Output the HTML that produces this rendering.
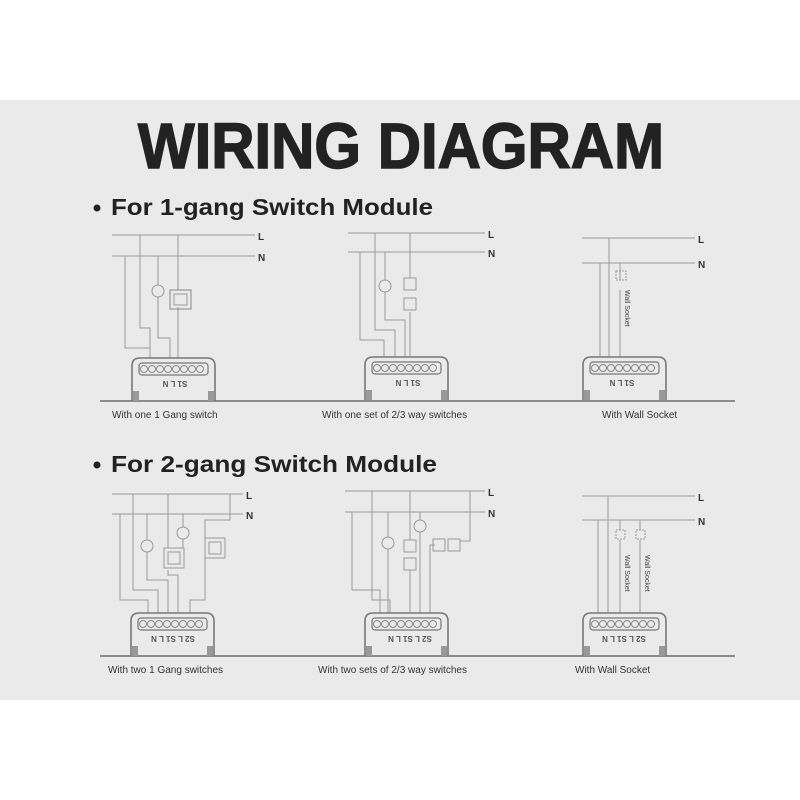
<!DOCTYPE html>
<html><head><meta charset="utf-8"><style>
html,body{margin:0;padding:0;background:#fff;}
svg{display:block;}
text{font-family:"Liberation Sans",sans-serif;}
</style></head><body>
<svg width="800" height="800" viewBox="0 0 800 800" xmlns="http://www.w3.org/2000/svg">
<defs>
<g id="mod">
 <path d="M0,43 V8 Q0,0 8,0 H75 Q83,0 83,8 V43" fill="none" stroke="#777" stroke-width="1.6"/>
 <rect x="7" y="5" width="69" height="12" rx="3" fill="none" stroke="#777" stroke-width="1.2"/>
 <g fill="none" stroke="#888" stroke-width="1">
  <circle cx="12" cy="11" r="3.5"/><circle cx="20" cy="11" r="3.5"/><circle cx="28" cy="11" r="3.5"/><circle cx="36" cy="11" r="3.5"/><circle cx="44" cy="11" r="3.5"/><circle cx="52" cy="11" r="3.5"/><circle cx="60" cy="11" r="3.5"/><circle cx="68" cy="11" r="3.5"/>
 </g>
 <rect x="1" y="33" width="6" height="10" fill="#999"/>
 <rect x="76" y="33" width="6" height="10" fill="#999"/>
</g>
</defs>
<rect x="0" y="100" width="800" height="600" fill="#eaeaea"/>
<text x="401" y="168" font-size="64" font-weight="bold" text-anchor="middle" textLength="526" lengthAdjust="spacingAndGlyphs" fill="#222" stroke="#222" stroke-width="1.5">WIRING DIAGRAM</text>
<circle cx="97" cy="208" r="3.5" fill="#222"/>
<text x="111" y="215" font-size="23" font-weight="bold" textLength="322" lengthAdjust="spacingAndGlyphs" fill="#222">For 1-gang Switch Module</text>
<circle cx="97" cy="465" r="3.5" fill="#222"/>
<text x="111" y="472" font-size="23" font-weight="bold" textLength="326" lengthAdjust="spacingAndGlyphs" fill="#222">For 2-gang Switch Module</text>

<g stroke="#555" stroke-width="1.2">
<line x1="100" y1="401" x2="735" y2="401"/>
<line x1="100" y1="656" x2="735" y2="656"/>
</g>
<g font-size="10" fill="#333">
<text x="112" y="418">With one 1 Gang switch</text>
<text x="322" y="418">With one set of 2/3 way switches</text>
<text x="602" y="418">With Wall Socket</text>
<text x="108" y="673">With two 1 Gang switches</text>
<text x="318" y="673">With two sets of 2/3 way switches</text>
<text x="575" y="673">With Wall Socket</text>
</g>

<!-- Row1 D1 -->
<g fill="none" stroke="#999" stroke-width="1">
<line x1="112" y1="235" x2="255" y2="235"/><line x1="112" y1="256" x2="255" y2="256"/>
<polyline points="140,235 140,328 150,328 150,358"/>
<polyline points="125,256 125,348 150,348"/>
<polyline points="158,256 158,285"/><polyline points="158,297 158,338 170,338 170,358"/>
<polyline points="178,235 178,290"/><polyline points="178,307 178,358"/>
<circle cx="158" cy="291" r="6"/>
<rect x="170" y="290" width="21" height="19" stroke="#888"/><rect x="174" y="294" width="13" height="11"/>
</g>
<use href="#mod" x="132" y="358"/>
<text transform="translate(175,381) rotate(180)" font-size="8" font-weight="bold" text-anchor="middle" fill="#555">S1 L N</text>
<text x="258" y="240" font-size="10" font-weight="bold" fill="#333">L</text>
<text x="258" y="261" font-size="10" font-weight="bold" fill="#333">N</text>

<!-- Row1 D2 -->
<g fill="none" stroke="#999" stroke-width="1">
<line x1="348" y1="233" x2="485" y2="233"/><line x1="348" y1="252" x2="485" y2="252"/>
<polyline points="360,252 360,340 384,340 384,357"/>
<polyline points="375,233 375,330 395,330 395,357"/>
<polyline points="385,252 385,280"/><polyline points="385,292 385,320 405,320 405,357"/>
<polyline points="410,233 410,278"/><polyline points="410,312 410,357"/>
<circle cx="385" cy="286" r="6"/>
<rect x="404" y="278" width="12" height="12"/><rect x="404" y="298" width="12" height="12"/>
</g>
<use href="#mod" x="365" y="357"/>
<text transform="translate(408,380) rotate(180)" font-size="8" font-weight="bold" text-anchor="middle" fill="#555">S1 L N</text>
<text x="488" y="238" font-size="10" font-weight="bold" fill="#333">L</text>
<text x="488" y="257" font-size="10" font-weight="bold" fill="#333">N</text>

<!-- Row1 D3 -->
<g fill="none" stroke="#999" stroke-width="1">
<line x1="582" y1="238" x2="695" y2="238"/><line x1="582" y1="263" x2="695" y2="263"/>
<line x1="600" y1="263" x2="600" y2="357"/>
<line x1="609" y1="238" x2="609" y2="357"/>
<polyline points="620,263 620,280"/><line x1="620" y1="290" x2="620" y2="357"/>
<rect x="616" y="271" width="10" height="9" stroke-dasharray="2,1"/>
</g>
<text transform="translate(625,290) rotate(90)" font-size="7" fill="#444">Wall Socket</text>
<use href="#mod" x="583" y="357"/>
<text transform="translate(622,380) rotate(180)" font-size="8" font-weight="bold" text-anchor="middle" fill="#555">S1 L N</text>
<text x="698" y="243" font-size="10" font-weight="bold" fill="#333">L</text>
<text x="698" y="268" font-size="10" font-weight="bold" fill="#333">N</text>

<!-- Row2 D1 -->
<g fill="none" stroke="#999" stroke-width="1">
<line x1="112" y1="494" x2="243" y2="494"/><line x1="112" y1="514" x2="243" y2="514"/>
<polyline points="120,514 120,600 148,600 148,613"/>
<polyline points="133,494 133,590 158,590 158,613"/>
<polyline points="147,514 147,540"/><polyline points="147,552 147,580 168,580 168,613"/>
<polyline points="183,514 183,527"/><polyline points="183,539 183,548"/>
<polyline points="168,494 168,548"/><polyline points="168,570 168,575 178,575 178,613"/>
<polyline points="230,494 230,520 205,520 205,538"/><polyline points="205,558 205,600 190,600 190,613"/>
<circle cx="147" cy="546" r="6"/><circle cx="183" cy="533" r="6"/>
<rect x="164" y="548" width="20" height="20"/><rect x="168" y="552" width="12" height="12"/>
<rect x="205" y="538" width="20" height="20"/><rect x="209" y="542" width="12" height="12"/>
</g>
<use href="#mod" x="131" y="613"/>
<text transform="translate(173,636) rotate(180)" font-size="8" font-weight="bold" text-anchor="middle" fill="#555">S2 L S1 L N</text>
<text x="246" y="499" font-size="10" font-weight="bold" fill="#333">L</text>
<text x="246" y="519" font-size="10" font-weight="bold" fill="#333">N</text>

<!-- Row2 D2 -->
<g fill="none" stroke="#999" stroke-width="1">
<line x1="345" y1="491" x2="485" y2="491"/><line x1="345" y1="512" x2="485" y2="512"/>
<polyline points="352,512 352,590 380,590 380,613"/>
<polyline points="372,491 372,600 390,600 390,613"/>
<polyline points="388,512 388,537"/><polyline points="388,549 388,613"/>
<polyline points="410,491 410,540"/><polyline points="410,570 410,613"/>
<polyline points="420,512 420,520"/><polyline points="420,532 420,613"/>
<polyline points="470,491 470,541 460,541"/><polyline points="435,545 430,545 430,613"/>
<circle cx="388" cy="543" r="6"/><circle cx="420" cy="526" r="6"/>
<rect x="404" y="540" width="12" height="12"/><rect x="404" y="558" width="12" height="12"/>
<rect x="433" y="539" width="12" height="12"/><rect x="448" y="539" width="12" height="12"/>
</g>
<use href="#mod" x="365" y="613"/>
<text transform="translate(410,636) rotate(180)" font-size="8" font-weight="bold" text-anchor="middle" fill="#555">S2 L S1 L N</text>
<text x="488" y="496" font-size="10" font-weight="bold" fill="#333">L</text>
<text x="488" y="517" font-size="10" font-weight="bold" fill="#333">N</text>

<!-- Row2 D3 -->
<g fill="none" stroke="#999" stroke-width="1">
<line x1="582" y1="496" x2="695" y2="496"/><line x1="582" y1="520" x2="695" y2="520"/>
<line x1="598" y1="520" x2="598" y2="613"/>
<line x1="608" y1="496" x2="608" y2="613"/>
<polyline points="620,520 620,530"/><line x1="620" y1="540" x2="620" y2="613"/>
<polyline points="640,520 640,530"/><line x1="640" y1="540" x2="640" y2="613"/>
<rect x="616" y="530" width="9" height="9" stroke-dasharray="2,1"/>
<rect x="636" y="530" width="9" height="9" stroke-dasharray="2,1"/>
</g>
<text transform="translate(625,555) rotate(90)" font-size="7" fill="#444">Wall Socket</text>
<text transform="translate(645,555) rotate(90)" font-size="7" fill="#444">Wall Socket</text>
<use href="#mod" x="583" y="613"/>
<text transform="translate(624,636) rotate(180)" font-size="8" font-weight="bold" text-anchor="middle" fill="#555">S2 L S1 L N</text>
<text x="698" y="501" font-size="10" font-weight="bold" fill="#333">L</text>
<text x="698" y="525" font-size="10" font-weight="bold" fill="#333">N</text>
</svg>
</body></html>
